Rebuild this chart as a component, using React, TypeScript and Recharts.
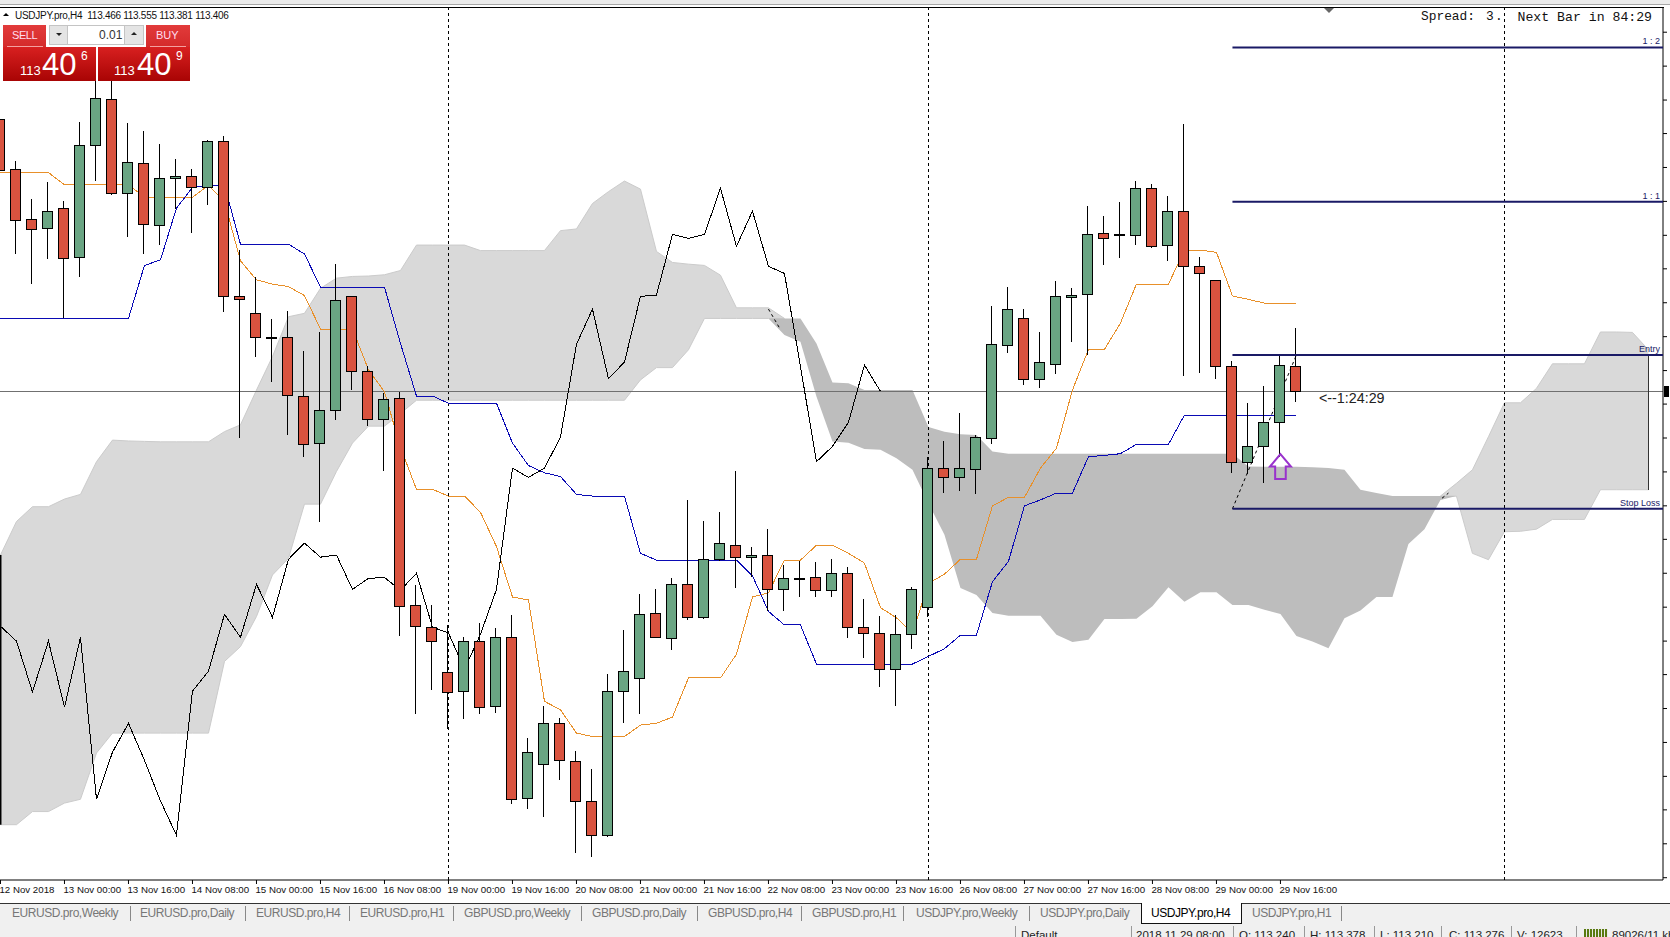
import React from 'react'
import { ComposedChart, Area, Bar, Line, XAxis, YAxis, ReferenceLine, ReferenceDot } from 'recharts'

// candles, one per H4 bar
const opens = [
  114.048, 113.930, 113.812, 113.791, 113.838, 113.722, 113.986, 114.095, 113.873, 113.944,
  113.798, 113.909, 113.913, 113.887, 113.996, 113.630, 113.590, 113.534, 113.534, 113.394,
  113.284, 113.361, 113.630, 113.453, 113.340, 113.390, 112.902, 112.850, 112.744, 112.699,
  112.817, 112.664, 112.826, 112.447, 112.527, 112.623, 112.534, 112.440, 112.359, 112.699,
  112.730, 112.883, 112.824, 112.951, 112.873, 113.010, 113.043, 113.015, 113.020, 112.939,
  112.967, 112.968, 112.937, 112.977, 112.850, 112.836, 112.751, 112.833, 112.897, 113.225,
  113.203, 113.222, 113.295, 113.515, 113.578, 113.436, 113.470, 113.628, 113.635, 113.779,
  113.776, 113.774, 113.885, 113.750, 113.831, 113.701, 113.668, 113.465, 113.240, 113.276,
  113.333, 113.466,
]
const highs = [
  114.211, 113.949, 113.859, 113.900, 113.854, 114.041, 114.140, 114.140, 114.038, 114.019,
  113.989, 113.953, 113.930, 113.998, 114.008, 113.739, 113.675, 113.576, 113.595, 113.501,
  113.545, 113.706, 113.631, 113.465, 113.402, 113.404, 112.949, 112.902, 112.855, 112.826,
  112.859, 112.847, 112.878, 112.588, 112.664, 112.635, 112.557, 112.515, 112.739, 112.843,
  112.928, 112.939, 112.965, 113.149, 113.100, 113.121, 113.218, 113.038, 113.081, 112.996,
  113.005, 113.003, 113.010, 112.991, 112.916, 112.876, 112.878, 112.944, 113.251, 113.289,
  113.355, 113.303, 113.608, 113.652, 113.600, 113.545, 113.666, 113.649, 113.843, 113.819,
  113.853, 113.901, 113.894, 113.866, 114.036, 113.722, 113.668, 113.477, 113.378, 113.418,
  113.491, 113.555,
]
const lows = [
  113.898, 113.731, 113.660, 113.717, 113.578, 113.675, 113.902, 113.868, 113.769, 113.731,
  113.752, 113.835, 113.780, 113.845, 113.594, 113.297, 113.488, 113.429, 113.302, 113.252,
  113.099, 113.339, 113.410, 113.324, 113.217, 112.830, 112.644, 112.701, 112.609, 112.633,
  112.644, 112.647, 112.434, 112.422, 112.401, 112.490, 112.318, 112.307, 112.356, 112.623,
  112.646, 112.826, 112.797, 112.866, 112.869, 113.005, 112.942, 112.968, 112.887, 112.887,
  112.922, 112.921, 112.921, 112.825, 112.778, 112.708, 112.663, 112.799, 112.875, 113.167,
  113.171, 113.164, 113.281, 113.497, 113.422, 113.415, 113.448, 113.523, 113.491, 113.703,
  113.721, 113.752, 113.745, 113.714, 113.443, 113.450, 113.434, 113.214, 113.210, 113.191,
  113.252, 113.381,
]
const closes = [
  113.927, 113.810, 113.788, 113.831, 113.720, 113.986, 114.097, 113.873, 113.946, 113.800,
  113.909, 113.913, 113.887, 113.996, 113.630, 113.623, 113.534, 113.534, 113.397, 113.281,
  113.361, 113.621, 113.453, 113.340, 113.387, 112.899, 112.852, 112.817, 112.697, 112.817,
  112.661, 112.826, 112.444, 112.555, 112.623, 112.536, 112.440, 112.359, 112.699, 112.746,
  112.880, 112.826, 112.951, 112.873, 113.010, 113.048, 113.015, 113.020, 112.939, 112.965,
  112.967, 112.937, 112.977, 112.850, 112.836, 112.751, 112.833, 112.939, 113.225, 113.203,
  113.225, 113.298, 113.517, 113.600, 113.436, 113.475, 113.630, 113.633, 113.776, 113.767,
  113.776, 113.885, 113.748, 113.831, 113.701, 113.684, 113.465, 113.240, 113.276, 113.333,
  113.468, 113.406,
]

// ichimoku lines
const tenkan = [
  113.922, 113.922, 113.922, 113.922, 113.893, 113.893, 113.893, 113.893, 113.893, 113.864,
  113.864, 113.864, 113.864, 113.892, 113.853, 113.714, 113.669, 113.659, 113.653, 113.632,
  113.553, 113.553, 113.553, 113.457, 113.405, 113.274, 113.175, 113.175, 113.159, 113.159,
  113.121, 113.040, 112.921, 112.914, 112.675, 112.655, 112.600, 112.592, 112.592, 112.592,
  112.619, 112.623, 112.638, 112.730, 112.730, 112.730, 112.786, 112.921, 112.931, 113.008,
  113.008, 113.043, 113.043, 113.024, 113.001, 112.896, 112.872, 112.836, 112.953, 112.975,
  113.010, 113.010, 113.136, 113.156, 113.156, 113.225, 113.272, 113.409, 113.505, 113.505,
  113.567, 113.659, 113.659, 113.659, 113.739, 113.739, 113.734, 113.631, 113.623, 113.614,
  113.614, 113.614,
]
const kijun = [
  113.578, 113.578, 113.578, 113.578, 113.578, 113.578, 113.578, 113.578, 113.578, 113.703,
  113.716, 113.838, 113.887, 113.892, 113.892, 113.753, 113.753, 113.753, 113.753, 113.730,
  113.652, 113.652, 113.652, 113.652, 113.652, 113.519, 113.395, 113.395, 113.378, 113.378,
  113.378, 113.378, 113.284, 113.231, 113.214, 113.205, 113.163, 113.159, 113.159, 113.159,
  113.024, 113.008, 113.008, 113.008, 113.008, 113.008, 113.008, 112.971, 112.887, 112.855,
  112.855, 112.763, 112.763, 112.763, 112.763, 112.763, 112.763, 112.763, 112.781, 112.799,
  112.831, 112.831, 112.957, 113.005, 113.136, 113.150, 113.166, 113.166, 113.252, 113.255,
  113.259, 113.281, 113.281, 113.281, 113.350, 113.350, 113.350, 113.350, 113.350, 113.350,
  113.350, 113.350,
]
const chikou = [
  112.852, 112.817, 112.697, 112.817, 112.661, 112.826, 112.444, 112.555, 112.623, 112.536,
  112.440, 112.359, 112.699, 112.746, 112.880, 112.826, 112.951, 112.873, 113.010, 113.048,
  113.015, 113.020, 112.939, 112.965, 112.967, 112.937, 112.977, 112.850, 112.836, 112.751,
  112.833, 112.939, 113.225, 113.203, 113.225, 113.298, 113.517, 113.600, 113.436, 113.475,
  113.630, 113.633, 113.776, 113.767, 113.776, 113.885, 113.748, 113.831, 113.701, 113.684,
  113.465, 113.240, 113.276, 113.333, 113.468, 113.406,
]
const spanA = [
  113.020, 113.099, 113.134, 113.134, 113.152, 113.163, 113.240, 113.291, 113.289, 113.288,
  113.287, 113.287, 113.287, 113.287, 113.311, 113.327, 113.409, 113.488, 113.582, 113.590,
  113.649, 113.673, 113.677, 113.678, 113.681, 113.691, 113.751, 113.751, 113.751, 113.751,
  113.738, 113.738, 113.738, 113.738, 113.738, 113.785, 113.789, 113.849, 113.877, 113.902,
  113.883, 113.736, 113.710, 113.706, 113.703, 113.680, 113.603, 113.603, 113.603, 113.539,
  113.523, 113.394, 113.288, 113.285, 113.270, 113.268, 113.248, 113.221, 113.142, 113.068,
  112.942, 112.926, 112.883, 112.877, 112.877, 112.877, 112.832, 112.815, 112.820, 112.869,
  112.869, 112.870, 112.899, 112.944, 112.910, 112.932, 112.932, 112.902, 112.902, 112.891,
  112.881, 112.829, 112.816, 112.800, 112.871, 112.889, 112.921, 112.921, 113.046, 113.081,
  113.150, 113.189, 113.221, 113.299, 113.379, 113.379, 113.413, 113.471, 113.471, 113.471,
  113.546, 113.546, 113.545, 113.504,
]
const spanB = [
  112.384, 112.384, 112.415, 112.415, 112.435, 112.444, 112.553, 112.600, 112.600, 112.600,
  112.600, 112.600, 112.600, 112.600, 112.769, 112.804, 112.875, 112.973, 113.012, 113.140,
  113.140, 113.217, 113.284, 113.324, 113.324, 113.354, 113.385, 113.385, 113.385, 113.385,
  113.385, 113.385, 113.385, 113.385, 113.385, 113.385, 113.385, 113.385, 113.385, 113.385,
  113.433, 113.462, 113.462, 113.504, 113.578, 113.578, 113.578, 113.578, 113.578, 113.578,
  113.578, 113.519, 113.427, 113.425, 113.409, 113.409, 113.409, 113.409, 113.322, 113.311,
  113.305, 113.303, 113.264, 113.259, 113.259, 113.259, 113.259, 113.259, 113.259, 113.259,
  113.259, 113.259, 113.259, 113.259, 113.259, 113.259, 113.259, 113.259, 113.229, 113.228,
  113.228, 113.228, 113.227, 113.225, 113.221, 113.174, 113.166, 113.159, 113.159, 113.159,
  113.159, 113.159, 113.024, 113.009, 113.075, 113.076, 113.081, 113.104, 113.104, 113.104,
  113.174, 113.174, 113.174, 113.174,
]

const tickBars = [0, 4, 8, 12, 16, 20, 24, 28, 32, 36, 40, 44, 48, 52, 56, 60, 64, 68, 72, 76, 80]
const tickLabels = [
  '12 Nov 2018', '13 Nov 00:00', '13 Nov 16:00', '14 Nov 08:00', '15 Nov 00:00', '15 Nov 16:00', '16 Nov 08:00',
  '19 Nov 00:00', '19 Nov 16:00', '20 Nov 08:00', '21 Nov 00:00', '21 Nov 16:00', '22 Nov 08:00', '23 Nov 00:00',
  '23 Nov 16:00', '26 Nov 08:00', '27 Nov 00:00', '27 Nov 16:00', '28 Nov 08:00', '29 Nov 00:00', '29 Nov 16:00',
]
const priceTicks = [
  114.253, 114.173, 114.093, 114.014, 113.934, 113.854, 113.774, 113.695, 113.615, 113.535, 113.455, 113.376, 113.296,
  113.216, 113.136, 113.057, 112.977, 112.897, 112.817, 112.738, 112.658, 112.578, 112.498, 112.419, 112.339, 112.259,
]
const separators = [28, 58, 94]
const levels = [
  { name: '1 : 2', price: 114.217 },
  { name: '1 : 1', price: 113.853 },
  { name: 'Entry', price: 113.492 },
  { name: 'Stop Loss', price: 113.129 },
]
const bid = 113.406

const tabs = [
  { label: 'EURUSD.pro,Weekly', x: 12 }, { label: 'EURUSD.pro,Daily', x: 140 }, { label: 'EURUSD.pro,H4', x: 256 },
  { label: 'EURUSD.pro,H1', x: 360 }, { label: 'GBPUSD.pro,Weekly', x: 464 }, { label: 'GBPUSD.pro,Daily', x: 592 },
  { label: 'GBPUSD.pro,H4', x: 708 }, { label: 'GBPUSD.pro,H1', x: 812 }, { label: 'USDJPY.pro,Weekly', x: 916 },
  { label: 'USDJPY.pro,Daily', x: 1040 }, { label: 'USDJPY.pro,H4', x: 1151 }, { label: 'USDJPY.pro,H1', x: 1252 },
]
const tabSeps = [130, 245, 349, 453, 581, 697, 801, 903, 1029, 1341]
const statusCells = [
  { label: 'Default', x: 1021 }, { label: '2018.11.29 08:00', x: 1136 }, { label: 'O: 113.240', x: 1239 },
  { label: 'H: 113.378', x: 1310 }, { label: 'L: 113.210', x: 1380 }, { label: 'C: 113.276', x: 1449 },
  { label: 'V: 12623', x: 1517 }, { label: '89026/11 kb', x: 1612 },
]
const statusSeps = [1015, 1131, 1233, 1304, 1374, 1441, 1511, 1576]

const rows = spanA.map((a, i) => {
  const b = spanB[i]
  const isLight = (k: number) => k >= 0 && k < spanA.length && spanA[k] >= spanB[k]
  const hasCandle = i < opens.length
  return {
    i,
    open: hasCandle ? opens[i] : null,
    high: hasCandle ? highs[i] : null,
    low: hasCandle ? lows[i] : null,
    close: hasCandle ? closes[i] : null,
    tenkan: hasCandle ? tenkan[i] : null,
    kijun: hasCandle ? kijun[i] : null,
    chikou: i < chikou.length ? chikou[i] : null,
    // kumo changes colour where the spans cross, both parts meet on span B
    light: isLight(i) ? [b, a] : isLight(i - 1) || isLight(i + 1) ? [b, b] : null,
    dark: !isLight(i) ? [a, b] : !isLight(i - 1) || !isLight(i + 1) ? [b, b] : null,
  }
})

const W = 1670
const H = 937
const SANS = '"Liberation Sans", Arial, sans-serif'
const NAVY = '#1a1a66'
const X_MIN = -0.03
const X_MAX = 103.91

function Candle(props: any) {
  const { x, y, width, height, payload } = props
  if (payload.high == null) return null
  const perUnit = height / (payload.high - payload.low)
  const yOf = (p: number) => y + (payload.high - p) * perUnit
  const cx = Math.round(x + width / 2 - 0.5) + 0.5
  const top = Math.round(yOf(Math.max(payload.open, payload.close)))
  const bottom = Math.round(yOf(Math.min(payload.open, payload.close)))
  const fill = payload.close >= payload.open ? '#6aa583' : '#d9533f'
  return (
    <g shapeRendering='crispEdges'>
      <line x1={cx} x2={cx} y1={y} y2={y + height} stroke='#000' />
      <rect x={cx - 5} y={top + 0.5} width={10} height={Math.max(bottom - top, 1)} fill={fill} stroke='#000' />
    </g>
  )
}

function TimeTick(props: any) {
  const { x, y, payload } = props
  return (
    <text x={x - 1} y={y + 7} textAnchor='start' fontSize={9.7} fontFamily={SANS} fill='#111'>
      {tickLabels[tickBars.indexOf(payload.value)]}
    </text>
  )
}

function NoTick() {
  return <g />
}

function UpArrow(props: any) {
  const { cx, cy } = props
  return (
    <path
      d={`M${cx} ${cy} l10.5 12.5 h-5.2 v12.5 h-10.6 v-12.5 h-5.2 z`}
      fill='none'
      stroke='#9932cc'
      strokeWidth={2}
    />
  )
}

function Label(props: any) {
  const { x, y, size, color, weight, children, mono, spacing } = props
  return (
    <div
      style={{
        position: 'absolute',
        left: x,
        top: y,
        fontSize: size,
        color: color || '#000',
        fontWeight: weight || 'normal',
        fontFamily: mono ? '"Liberation Mono", monospace' : SANS,
        letterSpacing: spacing || 0,
        whiteSpace: 'pre',
        lineHeight: 1,
      }}
    >
      {children}
    </div>
  )
}

function Box(props: any) {
  const { x, y, w, h, bg, extra } = props
  return <div style={{ position: 'absolute', left: x, top: y, width: w, height: h, background: bg, ...extra }} />
}

function Triangle(props: any) {
  const { x, y, up, color, half } = props
  const side = `${half}px solid transparent`
  const tip = `${half}px solid ${color}`
  return (
    <div
      style={{
        position: 'absolute',
        left: x,
        top: y,
        width: 0,
        height: 0,
        borderLeft: side,
        borderRight: side,
        ...(up ? { borderBottom: tip } : { borderTop: tip }),
      }}
    />
  )
}

function TradePanel() {
  const red = 'linear-gradient(#e23b3b, #d42a2a)'
  const price = 'linear-gradient(#d82020, #a80404)'
  return (
    <>
      <Box x={3} y={25} w={43} h={22} bg={red} />
      <Box x={146} y={25} w={44} h={22} bg={red} />
      <Box x={7} y={46} w={36} h={1} bg='#f3a0a0' />
      <Box x={150} y={46} w={36} h={1} bg='#f3a0a0' />
      <Label x={12} y={30} size={11} spacing={-0.4} color='#fde'>SELL</Label>
      <Label x={156} y={30} size={11} color='#fde'>BUY</Label>
      <Box x={49} y={25} w={95} h={20} bg='#fff' extra={{ border: '1px solid #c4c4c4', boxSizing: 'border-box' }} />
      <Box x={49} y={25} w={19} h={20} bg='#e4e4e4' extra={{ border: '1px solid #c4c4c4', boxSizing: 'border-box' }} />
      <Box x={124} y={25} w={20} h={20} bg='#e4e4e4' extra={{ border: '1px solid #c4c4c4', boxSizing: 'border-box' }} />
      <Label x={99} y={29} size={12} color='#333'>0.01</Label>
      <Triangle x={56} y={33} color='#222' half={3} />
      <Triangle x={131} y={32} up color='#222' half={3} />
      <Box x={3} y={47} w={93} h={34} bg={price} />
      <Box x={98} y={47} w={92} h={34} bg={price} />
      <Label x={20} y={64} size={13} color='#fff'>113</Label>
      <Label x={42} y={49} size={31} color='#fff'>40</Label>
      <Label x={81} y={50} size={12} color='#fff'>6</Label>
      <Label x={114} y={64} size={13} color='#fff'>113</Label>
      <Label x={137} y={49} size={31} color='#fff'>40</Label>
      <Label x={176} y={50} size={12} color='#fff'>9</Label>
    </>
  )
}

function BottomBars() {
  return (
    <>
      <Box x={0} y={903} w={W} h={1} bg='#333' />
      <Box x={0} y={904} w={W} h={33} bg='#f0f0f0' />
      {tabSeps.map((x) => (
        <Box key={x} x={x} y={906} w={1} h={15} bg='#888' />
      ))}
      <Box x={1141} y={903} w={101} h={21} bg='#fff' extra={{ border: '1px solid #111', borderTop: 'none', boxSizing: 'border-box' }} />
      {tabs.map((t) => (
        <Label key={t.label} x={t.x} y={907} size={12} spacing={-0.45} color={t.label === 'USDJPY.pro,H4' ? '#000' : '#777'}>
          {t.label}
        </Label>
      ))}
      {statusSeps.map((x) => (
        <Box key={x} x={x} y={926} w={1} h={11} bg='#999' />
      ))}
      {statusCells.map((c) => (
        <Label key={c.label} x={c.x} y={930} size={11.5} color='#222'>
          {c.label}
        </Label>
      ))}
      <Box x={1584} y={929} w={24} h={8} bg='repeating-linear-gradient(90deg, #5a7a10 0 2px, #e8e8e8 2px 3px)' />
    </>
  )
}

export default function App() {
  return (
    <div style={{ position: 'absolute', left: 0, top: 0, width: W, height: H, overflow: 'hidden', background: '#fff' }}>
      <ComposedChart
        width={W}
        height={H}
        data={rows}
        margin={{ top: 8, right: 0, bottom: 0, left: 0 }}
        barSize={11}
      >
        <XAxis
          dataKey='i'
          type='number'
          domain={[X_MIN, X_MAX]}
          ticks={tickBars}
          interval={0}
          height={57}
          tick={<TimeTick />}
          tickSize={4}
          stroke='#000'
          allowDataOverflow
        />
        <YAxis
          orientation='right'
          type='number'
          domain={[112.2536, 114.3101]}
          ticks={priceTicks}
          interval={0}
          width={7}
          tick={<NoTick />}
          tickSize={4}
          stroke='#000'
          allowDataOverflow
        />
        <Area dataKey='light' stroke='#cbcbcb' strokeWidth={1} fill='#d9d9d9' fillOpacity={1} isAnimationActive={false} dot={false} activeDot={false} zIndex={100} />
        <Area dataKey='dark' stroke='none' fill='#bdbdbd' fillOpacity={1} isAnimationActive={false} dot={false} activeDot={false} zIndex={101} />

        {separators.map((s) => (
          <ReferenceLine key={s} x={s} stroke='#000' strokeDasharray='3 3' shapeRendering='crispEdges' zIndex={200} />
        ))}
        <ReferenceLine y={bid} stroke='#707070' shapeRendering='crispEdges' zIndex={200} />
        <ReferenceLine segment={[{ x: 0, y: 113.02 }, { x: 0, y: 112.384 }]} stroke='#000' strokeWidth={2} zIndex={200} />
        <ReferenceLine segment={[{ x: 103, y: 113.492 }, { x: 103, y: 113.174 }]} stroke='#333' shapeRendering='crispEdges' zIndex={200} />
        <ReferenceLine segment={[{ x: 77, y: 113.129 }, { x: 81, y: 113.492 }]} stroke='#000' strokeDasharray='3 3' zIndex={200} />
        <ReferenceLine segment={[{ x: 48, y: 113.6 }, { x: 48.7, y: 113.555 }]} stroke='#000' strokeDasharray='3 3' zIndex={200} />
        <ReferenceLine segment={[{ x: 90.1, y: 113.154 }, { x: 90.5, y: 113.166 }]} stroke='#000' strokeDasharray='3 3' zIndex={200} />

        <Line dataKey='tenkan' stroke='#e8902a' strokeWidth={1} shapeRendering='crispEdges' dot={false} isAnimationActive={false} zIndex={300} />
        <Line dataKey='kijun' stroke='#0a0ab4' strokeWidth={1} shapeRendering='crispEdges' dot={false} isAnimationActive={false} zIndex={301} />
        <Line dataKey='chikou' stroke='#000' strokeWidth={1} shapeRendering='crispEdges' dot={false} isAnimationActive={false} zIndex={302} />

        <Bar
          dataKey={(d: any) => (d.high == null ? null : [d.low, d.high])}
          shape={<Candle />}
          isAnimationActive={false}
          zIndex={500}
        />

        {levels.map((l) => (
          <ReferenceLine
            key={l.name}
            segment={[{ x: 77, y: l.price }, { x: X_MAX, y: l.price }]}
            stroke={NAVY}
            strokeWidth={2}
            zIndex={600}
            label={{ value: l.name, position: 'insideBottomRight', offset: 3, fill: NAVY, fontSize: 9, fontFamily: SANS }}
          />
        ))}
        <ReferenceDot x={80} y={113.258} r={1} shape={<UpArrow />} zIndex={600} />
      </ComposedChart>

      <Box x={0} y={0} w={W} h={4} bg='#ececec' extra={{ borderBottom: '1px solid #a8a8a8' }} />
      <Box x={0} y={7} w={1664} h={1} bg='#000' />
      <Triangle x={1324} y={8} color='#666' half={5} />
      <Box x={1664} y={386} w={5} h={11} bg='#000' />

      <Triangle x={3} y={13} up color='#000' half={3} />
      <Label x={15} y={11} size={10} spacing={-0.28} color='#111'>USDJPY.pro,H4  113.466 113.555 113.381 113.406</Label>
      <Label x={1421} y={11} size={12.86} mono color='#111'>Spread:</Label>
      <Label x={1486} y={11} size={12.86} mono color='#111'>3</Label>
      <Label x={1495} y={11} size={12.86} mono color='#111'>.</Label>
      <Label x={1517.5} y={11} size={13.2} mono color='#111'>Next Bar in 84:29</Label>
      <Label x={1319} y={391} size={14.3} color='#222'>{'<--1:24:29'}</Label>

      <TradePanel />
      <BottomBars />
    </div>
  )
}
